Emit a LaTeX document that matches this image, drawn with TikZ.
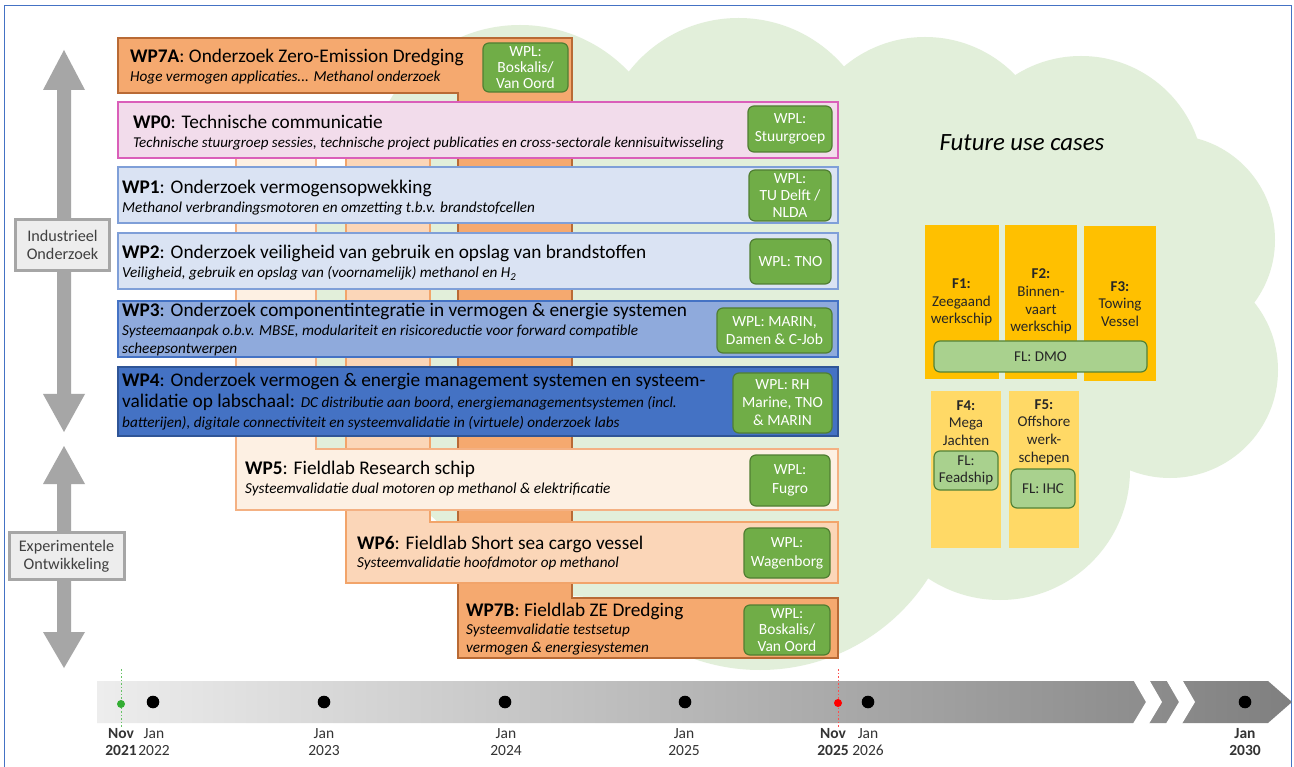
\documentclass[tikz,border=0pt]{standalone}
\usepackage{fontspec}
\setmainfont{Carlito}
\definecolor{cloudc}{HTML}{E2EFDA}
\definecolor{frame}{HTML}{4472C4}
\definecolor{arrg}{HTML}{A6A6A6}
\definecolor{lblf}{HTML}{EDEDED}
\definecolor{org}{HTML}{F5A96F}
\definecolor{orgb}{HTML}{B96A35}
\definecolor{pch}{HTML}{FBD6B8}
\definecolor{pchb}{HTML}{F2A46A}
\definecolor{lpch}{HTML}{FDF0E3}
\definecolor{lpchb}{HTML}{F4B183}
\definecolor{pinkf}{HTML}{F2DCEB}
\definecolor{pinkb}{HTML}{DA5FB9}
\definecolor{lbluef}{HTML}{DAE3F3}
\definecolor{lblueb}{HTML}{7F9FD8}
\definecolor{mbluef}{HTML}{8FAADC}
\definecolor{mblueb}{HTML}{4472C4}
\definecolor{dbluef}{HTML}{4472C4}
\definecolor{dblueb}{HTML}{2F5597}
\definecolor{wplf}{HTML}{70AD47}
\definecolor{wplb}{HTML}{507E32}
\definecolor{flf}{HTML}{A9D18E}
\definecolor{flb}{HTML}{548235}
\definecolor{fdark}{HTML}{FFC000}
\definecolor{flight}{HTML}{FFD966}
\definecolor{ftxt}{HTML}{262626}
\begin{document}
\begin{tikzpicture}[x=1pt,y=-1pt,
  wpl/.style={draw=wplb, fill=wplf, rounded corners=6pt, line width=1.2pt, inner sep=0pt, align=center, text=white, font=\fontsize{15.5}{17}\selectfont},
  ttl/.style={anchor=base west, inner sep=0pt, font=\fontsize{19.3}{21}\selectfont},
  sub/.style={anchor=base west, inner sep=0pt, font=\fontsize{15.2}{17}\selectfont\itshape},
  ftext/.style={align=center, inner sep=0pt, text=ftxt, font=\fontsize{15}{17.7}\selectfont},
  flbox/.style={draw=flb, fill=flf, rounded corners=6pt, line width=1.2pt, inner sep=0pt, align=center, text=ftxt, font=\fontsize{15}{17}\selectfont},
  lbl/.style={draw=arrg, fill=lblf, line width=3pt, inner sep=0pt, align=center, text=black!75, font=\fontsize{16.2}{18}\selectfont},
  tl/.style={align=center, inner sep=0pt, text=black!80, font=\fontsize{15.5}{17}\selectfont}
]
\useasboundingbox (0,0) rectangle (1294,767);
\fill[white] (0,0) rectangle (1294,767);
% outer frame
\draw[frame, line width=1pt] (4,767) -- (4,6) -- (1291,6) -- (1291,767);

% cloud
\begin{scope}[fill=cloudc]
\fill (520,175) circle (150pt);
\fill (738.5,157) circle (139pt);
\fill (925,163) circle (126pt);
\fill (1081,179) circle (123pt);
\fill (1170,240) circle (105pt);
\fill (1170,370) circle (108pt);
\fill (1000,470) circle (130pt);
\fill (760,470) circle (200pt);
\fill[rounded corners=30pt] (316,190) -- (600,190) -- (625,600) -- (470,588) -- (432,505) -- (316,505) -- cycle;
\fill (450,150) -- (1180,160) -- (1230,400) -- (1050,520) -- (760,620) -- (400,480) -- cycle;
\end{scope}
\node[font=\fontsize{24.8}{28}\selectfont\itshape, inner sep=0pt] (fuc) at (1022,143) {Future use cases};

% columns / L-shapes (back to front)
\draw[fill=org, draw=orgb, line width=1.2pt] (118,38) -- (572,38) -- (572,598) -- (838,598) -- (838,658) -- (458,658) -- (458,93) -- (118,93) -- cycle;
\draw[fill=pch, draw=pchb, line width=1.2pt] (346,130) -- (430,130) -- (430,522) -- (838,522) -- (838,583) -- (346,583) -- cycle;
\draw[fill=lpch, draw=lpchb, line width=1.2pt] (236,130) -- (316,130) -- (316,449) -- (838,449) -- (838,510) -- (236,510) -- cycle;

% WP boxes
\draw[fill=pinkf, draw=pinkb, line width=1.2pt] (118,102) rectangle (838,158);
\draw[fill=lbluef, draw=lblueb, line width=1.2pt] (118,167) rectangle (838,223);
\draw[fill=lbluef, draw=lblueb, line width=1.2pt] (118,233) rectangle (838,289);
\draw[fill=mbluef, draw=mblueb, line width=1.2pt] (118,301) rectangle (838,357);
\draw[fill=dbluef, draw=dblueb, line width=1.2pt] (118,367) rectangle (838,436);

% texts
\node[ttl] (t7a) at (130,63) {\textbf{WP7A}: Onderzoek Zero-Emission Dredging};
\node[sub] (s7a) at (130,81.5) {Hoge vermogen applicaties... Methanol onderzoek};
\node[ttl] (t0) at (133,129) {\textbf{WP0}: Technische communicatie};
\node[sub, font=\fontsize{15}{17}\selectfont\itshape] (s0) at (133,147.5) {Technische stuurgroep sessies, technische project publicaties en cross-sectorale kennisuitwisseling};
\node[ttl] (t1) at (122,194) {\textbf{WP1}: Onderzoek vermogensopwekking};
\node[sub] (s1) at (122,212.5) {Methanol verbrandingsmotoren en omzetting t.b.v. brandstofcellen};
\node[ttl] (t2) at (122,259) {\textbf{WP2}: Onderzoek veiligheid van gebruik en opslag van brandstoffen};
\node[sub] (s2) at (122,278) {Veiligheid, gebruik en opslag van (voornamelijk) methanol en H\textsubscript{2}};
\node[ttl] (t3) at (122,317) {\textbf{WP3}: Onderzoek componentintegratie in vermogen \& energie systemen};
\node[sub] (s3a) at (122,335.5) {Systeemaanpak o.b.v. MBSE, modulariteit en risicoreductie voor forward compatible};
\node[sub] (s3b) at (122,353.5) {scheepsontwerpen};
\node[ttl] (t4) at (122,387) {\textbf{WP4}: Onderzoek vermogen \& energie management systemen en systeem-};
\node[ttl] (t4b) at (122,408) {validatie op labschaal: {\fontsize{15.2}{17}\selectfont\itshape DC distributie aan boord, energiemanagementsystemen (incl.}};
\node[sub] (s4) at (122,427.5) {batterijen), digitale connectiviteit en systeemvalidatie in (virtuele) onderzoek labs};
\node[ttl] (t5) at (245,474) {\textbf{WP5}: Fieldlab Research schip};
\node[sub] (s5) at (245,493.5) {Systeemvalidatie dual motoren op methanol \& elektrificatie};
\node[ttl] (t6) at (357,549) {\textbf{WP6}: Fieldlab Short sea cargo vessel};
\node[sub] (s6) at (357,567.5) {Systeemvalidatie hoofdmotor op methanol};
\node[ttl] (t7b) at (466,616) {\textbf{WP7B}: Fieldlab ZE Dredging};
\node[sub] (s7b) at (466,634.5) {Systeemvalidatie testsetup};
\node[sub] (s7c) at (466,652.5) {vermogen \& energiesystemen};

% WPL boxes
\node[wpl, minimum width=85pt, minimum height=49pt, font=\fontsize{15.5}{16.3}\selectfont] (w7a) at (525.5,67.5) {WPL:\\Boskalis/\\Van Oord};
\node[wpl, minimum width=84pt, minimum height=46pt, font=\fontsize{15.5}{18}\selectfont] (w0) at (790,129) {WPL:\\Stuurgroep};
\node[wpl, minimum width=82pt, minimum height=51pt] (w1) at (790,195.5) {WPL:\\TU Delft /\\NLDA};
\node[wpl, minimum width=81pt, minimum height=45pt] (w2) at (790.5,261.5) {WPL: TNO};
\node[wpl, minimum width=115pt, minimum height=45pt, font=\fontsize{15.5}{18}\selectfont] (w3) at (774.5,330.5) {WPL: MARIN,\\Damen \& C-Job};
\node[wpl, minimum width=99pt, minimum height=60pt, font=\fontsize{15.5}{18}\selectfont] (w4) at (782.5,403) {WPL: RH\\Marine, TNO\\\& MARIN};
\node[wpl, minimum width=80pt, minimum height=51pt, font=\fontsize{15.5}{19}\selectfont] (w5) at (790,480.5) {WPL:\\Fugro};
\node[wpl, minimum width=86pt, minimum height=50pt, font=\fontsize{15.5}{19}\selectfont] (w6) at (787,553) {WPL:\\Wagenborg};
\node[wpl, minimum width=86pt, minimum height=50pt, font=\fontsize{15.5}{16.3}\selectfont] (w7b) at (787,630) {WPL:\\Boskalis/\\Van Oord};

% future use cases
\fill[fdark] (925,225) rectangle (999,379);
\fill[fdark] (1005,225) rectangle (1077,379);
\fill[fdark] (1084,226) rectangle (1156,381);
\fill[flight] (931,391) rectangle (1001,548);
\fill[flight] (1009,391) rectangle (1079,548);
\node[ftext] (f1) at (961.5,302.5) {\textbf{F1:}\\Zeegaand\\werkschip};
\node[ftext] (f2) at (1041,301.5) {\textbf{F2:}\\Binnen-\\vaart\\werkschip};
\node[ftext] (f3) at (1120,304) {\textbf{F3:}\\Towing\\Vessel};
\node[ftext] (f4) at (966,423) {\textbf{F4:}\\Mega\\Jachten};
\node[ftext] (f5) at (1044,432) {\textbf{F5:}\\Offshore\\werk-\\schepen};
\node[flbox, minimum width=213pt, minimum height=31pt] (dmo) at (1040.5,356.5) {FL: DMO};
\node[flbox, minimum width=64pt, minimum height=39pt] (fead) at (966,470.5) {FL:\\Feadship};
\node[flbox, minimum width=64pt, minimum height=39pt] (ihc) at (1043,488.5) {FL: IHC};

% left arrows
\fill[arrg] (64,50) -- (85,90) -- (71,90) -- (71,394) -- (85,394) -- (64,432) -- (43,394) -- (57,394) -- (57,90) -- (43,90) -- cycle;
\fill[arrg] (64,446) -- (85,484) -- (71,484) -- (71,632) -- (85,632) -- (64,668) -- (43,632) -- (57,632) -- (57,484) -- (43,484) -- cycle;
\node[lbl, minimum width=94pt, minimum height=51pt] (io) at (62.5,245) {Industrieel\\Onderzoek};
\node[lbl, minimum width=115pt, minimum height=47pt] (eo) at (66.5,556) {Experimentele\\Ontwikkeling};

% timeline
\shade[left color=black!7, right color=black!50] (97,681) -- (1268,681) -- (1292,702) -- (1268,723) -- (97,723) -- cycle;
\fill[white] (1131,676) -- (1147,676) -- (1162,702) -- (1147,727) -- (1131,727) -- (1146,702) -- cycle;
\fill[white] (1164,676) -- (1180,676) -- (1195,702) -- (1180,727) -- (1164,727) -- (1179,702) -- cycle;
\coordinate (g1) at (121,669); \coordinate (g2) at (121,727);
\coordinate (r1) at (838,669); \coordinate (r2) at (838,728);
\draw[green!60!black!60, line width=1pt, dash pattern=on 1.5pt off 2pt] (g1) -- (g2);
\draw[red!70, line width=1pt, dash pattern=on 1.5pt off 2pt] (r1) -- (r2);
\fill[green!60!black!80] (121,704) circle (4pt);
\fill[red] (838,703) circle (4pt);
\fill (153,702) circle (6.3pt);
\fill (324,702) circle (6.3pt);
\fill (505,702) circle (6.3pt);
\fill (685,702) circle (6.3pt);
\fill (868,702) circle (6.3pt);
\fill (1245,702) circle (6.3pt);
\node[tl] (n21) at (121,742.5) {\textbf{Nov}\\\textbf{2021}};
\node[tl] (j22) at (154,742.5) {Jan\\2022};
\node[tl] (j23) at (324,742.5) {Jan\\2023};
\node[tl] (j24) at (506,742.5) {Jan\\2024};
\node[tl] (j25) at (684,742.5) {Jan\\2025};
\node[tl] (n25) at (833,742.5) {\textbf{Nov}\\\textbf{2025}};
\node[tl] (j26) at (868,742.5) {Jan\\2026};
\node[tl] (j30) at (1245,742.5) {\textbf{Jan}\\\textbf{2030}};
\end{tikzpicture}
\end{document}
